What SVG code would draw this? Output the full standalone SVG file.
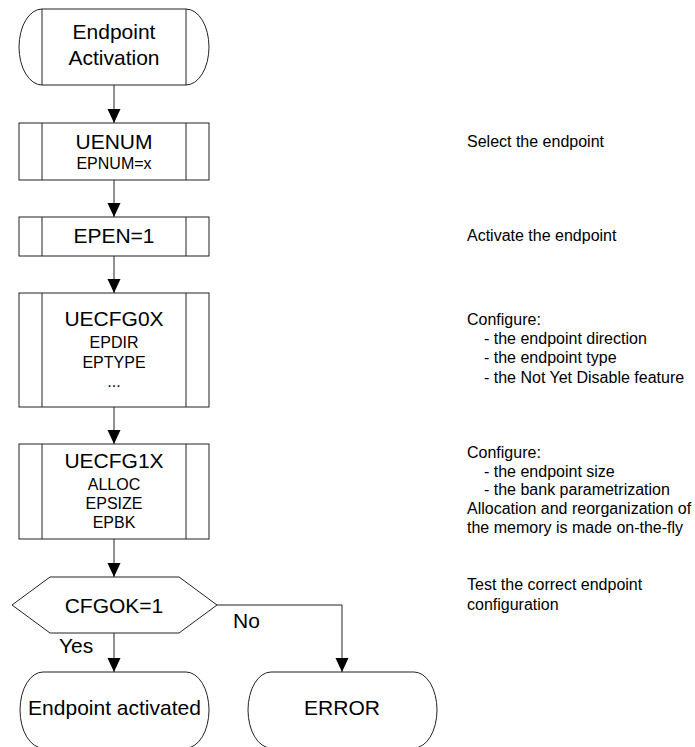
<svg xmlns="http://www.w3.org/2000/svg" width="695" height="747" viewBox="0 0 695 747">
<style>
.s{fill:#fff;stroke:#222;stroke-width:1}
.l{fill:none;stroke:#222;stroke-width:1}
.b{font-family:"Liberation Sans",Arial,sans-serif;font-size:21px;fill:#000;text-anchor:middle}
.m{font-family:"Liberation Sans",Arial,sans-serif;font-size:16px;fill:#000;text-anchor:middle}
.n{font-family:"Liberation Sans",Arial,sans-serif;font-size:16px;fill:#000}
.lb{font-family:"Liberation Sans",Arial,sans-serif;font-size:21px;fill:#000}
</style>
<defs>
<marker id="ah" markerUnits="userSpaceOnUse" markerWidth="14" markerHeight="14" refX="14" refY="6.5" orient="auto">
<path d="M0,0 L14,6.5 L0,13 Z" fill="#000"/>
</marker>
</defs>
<rect width="695" height="747" fill="#fff"/>
<g id="connectors">
<line class="l" x1="114" y1="85" x2="114" y2="123" marker-end="url(#ah)"/>
<line class="l" x1="114" y1="180" x2="114" y2="217" marker-end="url(#ah)"/>
<line class="l" x1="114" y1="256" x2="114" y2="293" marker-end="url(#ah)"/>
<line class="l" x1="114" y1="407" x2="114" y2="444" marker-end="url(#ah)"/>
<line class="l" x1="114" y1="539" x2="114" y2="577" marker-end="url(#ah)"/>
<line class="l" x1="114" y1="633" x2="114" y2="672" marker-end="url(#ah)"/>
<polyline class="l" points="217,605 342,605 342,672" marker-end="url(#ah)"/>
<text class="lb" x="233" y="628">No</text>
<text class="lb" x="59" y="653">Yes</text>
</g>
<g id="start">
<path class="s" d="M42,9 L186,9 A23,38 0 0 1 186,85 L42,85 A23,38 0 0 1 42,9 Z"/>
<line class="l" x1="42" y1="9" x2="42" y2="85"/>
<line class="l" x1="186" y1="9" x2="186" y2="85"/>
<text class="b" x="114" y="39">Endpoint</text>
<text class="b" x="114" y="65">Activation</text>
</g>
<g id="uenum">
<rect class="s" x="19" y="123" width="190" height="57"/>
<line class="l" x1="42" y1="123" x2="42" y2="180"/>
<line class="l" x1="186" y1="123" x2="186" y2="180"/>
<text class="b" x="114" y="149">UENUM</text>
<text class="m" x="114" y="169">EPNUM=x</text>
</g>
<g id="epen">
<rect class="s" x="19" y="217" width="190" height="39"/>
<line class="l" x1="42" y1="217" x2="42" y2="256"/>
<line class="l" x1="186" y1="217" x2="186" y2="256"/>
<text class="b" x="114" y="243">EPEN=1</text>
</g>
<g id="uecfg0x">
<rect class="s" x="19" y="293" width="190" height="114"/>
<line class="l" x1="42" y1="293" x2="42" y2="407"/>
<line class="l" x1="186" y1="293" x2="186" y2="407"/>
<text class="b" x="114" y="326">UECFG0X</text>
<text class="m" x="114" y="348">EPDIR</text>
<text class="m" x="114" y="368">EPTYPE</text>
<text class="m" x="114" y="387">...</text>
</g>
<g id="uecfg1x">
<rect class="s" x="19" y="444" width="190" height="95"/>
<line class="l" x1="42" y1="444" x2="42" y2="539"/>
<line class="l" x1="186" y1="444" x2="186" y2="539"/>
<text class="b" x="114" y="468">UECFG1X</text>
<text class="m" x="114" y="490">ALLOC</text>
<text class="m" x="114" y="509">EPSIZE</text>
<text class="m" x="114" y="528">EPBK</text>
</g>
<g id="cfgok">
<polygon class="s" points="12,605 50,577 179,577 217,605 179,633 50,633"/>
<text class="b" x="114" y="613">CFGOK=1</text>
</g>
<g id="activated">
<path class="s" d="M43,672 L186,672 A23,38 0 0 1 186,748 L43,748 A23,38 0 0 1 43,672 Z"/>
<text class="b" x="114.5" y="715">Endpoint activated</text>
</g>
<g id="error">
<path class="s" d="M271,672 L414,672 A23,38 0 0 1 414,748 L271,748 A23,38 0 0 1 271,672 Z"/>
<text class="b" x="342" y="715">ERROR</text>
</g>
<g id="notes">
<text class="n" x="467" y="147">Select the endpoint</text>
<text class="n" x="467" y="241">Activate the endpoint</text>
<text class="n" x="467" y="325">Configure:</text>
<text class="n" x="484" y="344">- the endpoint direction</text>
<text class="n" x="484" y="363">- the endpoint type</text>
<text class="n" x="484" y="383">- the Not Yet Disable feature</text>
<text class="n" x="467" y="458">Configure:</text>
<text class="n" x="484" y="477">- the endpoint size</text>
<text class="n" x="484" y="495">- the bank parametrization</text>
<text class="n" x="467" y="514">Allocation and reorganization of</text>
<text class="n" x="467" y="533">the memory is made on-the-fly</text>
<text class="n" x="467" y="590">Test the correct endpoint</text>
<text class="n" x="467" y="610">configuration</text>
</g>
</svg>
